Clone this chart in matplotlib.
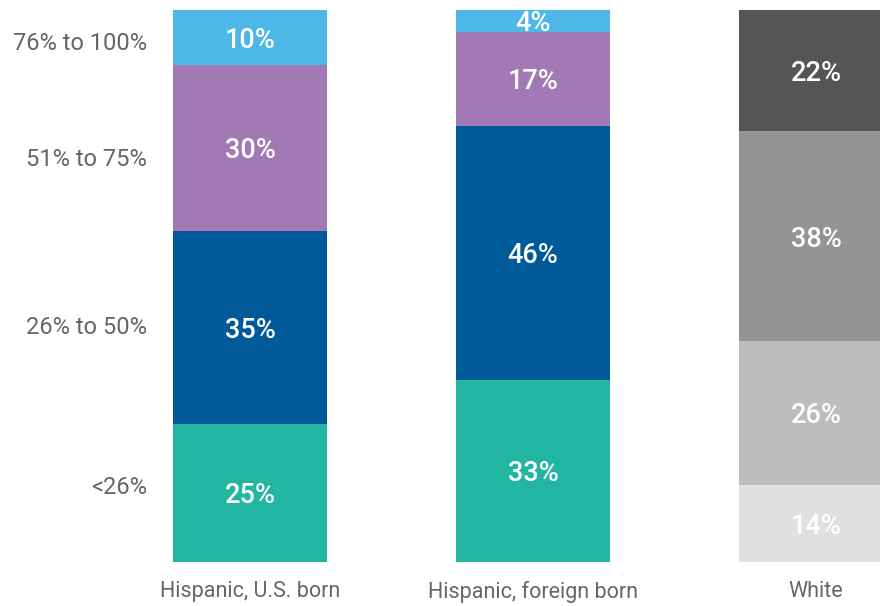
import matplotlib
matplotlib.use('Agg')
import matplotlib.pyplot as plt

categories = ['Hispanic, U.S. born', 'Hispanic, foreign born', 'White']
bands = ['<26%', '26% to 50%', '51% to 75%', '76% to 100%']
# share in each band, bottom to top
values = [
  [25, 35, 30, 10],
  [33, 46, 17, 4],
  [14, 26, 38, 22],
]
band_label_y = [487, 328, 160, 43]  # pixel rows of the left-hand labels

colors = [
  ['#20B6A1', '#005A99', '#A279B4', '#4DB8E8'],
  ['#20B6A1', '#005A99', '#A279B4', '#4DB8E8'],
  ['#E0E0E0', '#BDBDBD', '#959395', '#555558'],
]

plt.rcParams['font.family'] = ['Roboto', 'DejaVu Sans']

W, H = 880, 606
fig = plt.figure(figsize=(W/100, H/100), dpi=100)
ax = fig.add_axes([0, 44/H, 1, (562-10)/H])

step = 283.0
ax.set_xlim(-250/step, (W-250)/step)
ax.set_ylim(0, 100)
width = 154/step

for i, vals in enumerate(values):
  bottom = 0
  for j, v in enumerate(vals):
    ax.bar(i, v, width=width, bottom=bottom, color=colors[i][j], linewidth=0)
    ax.annotate('{}%'.format(v), (i, bottom + v/2), xytext=(0, -2),
                textcoords='offset points', ha='center', va='center',
                color='white', fontsize=19.5, fontweight='medium')
    bottom += v

for lab, py in zip(bands, band_label_y):
  fig.text(147/W, 1 - py/H, lab, ha='right', va='center', color='#666666', fontsize=17)

ax.set_xticks(range(len(categories)))
ax.set_xticklabels(categories, color='#666666', fontsize=15.5)
ax.tick_params(axis='x', length=0, pad=14)
ax.set_yticks([])
for s in ax.spines.values():
  s.set_visible(False)

fig.savefig('out.png', dpi=100)
